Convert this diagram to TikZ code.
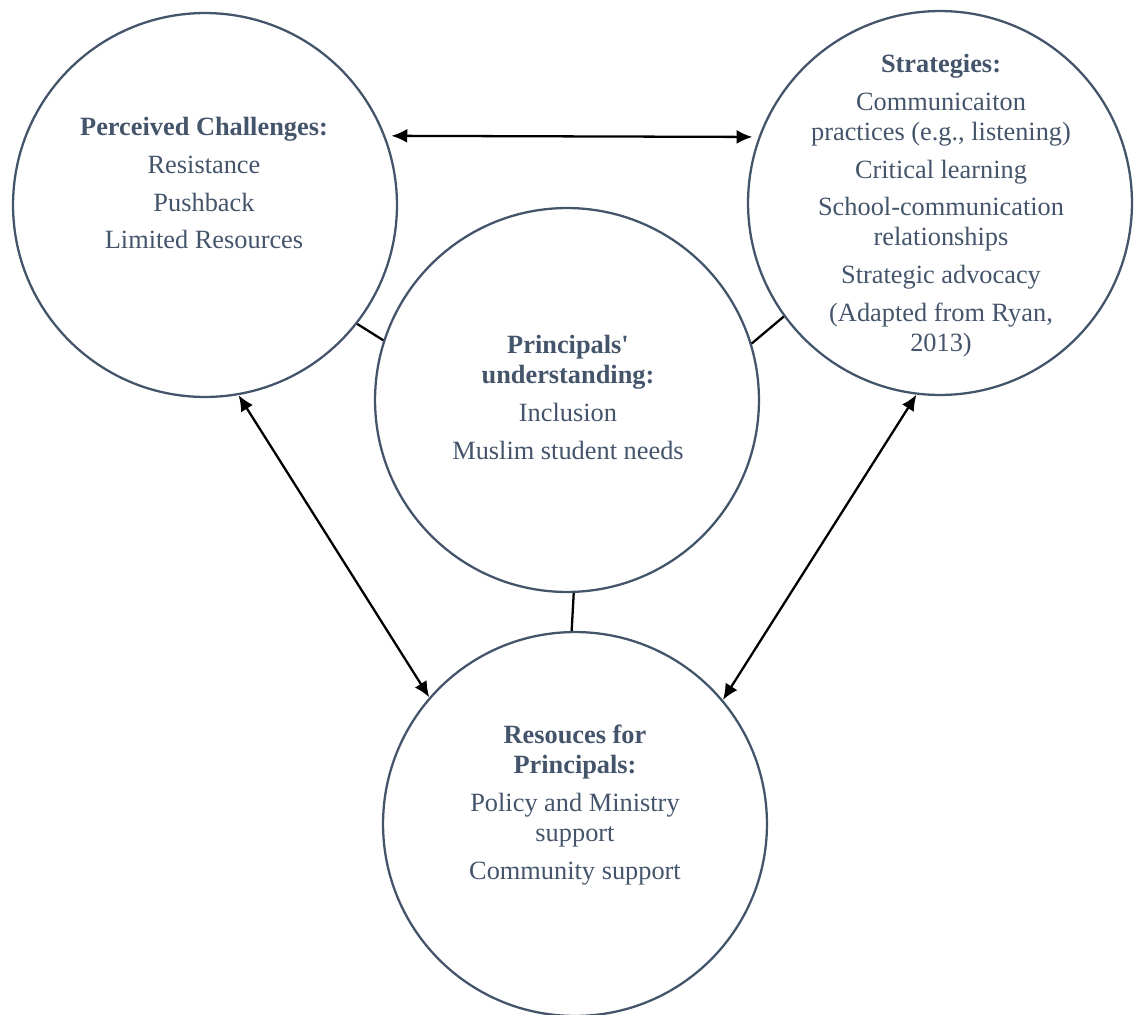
\documentclass[tikz,border=0pt]{standalone}
\usepackage{fontspec}
\setmainfont{Liberation Serif}
\usetikzlibrary{arrows.meta}

\definecolor{slate}{HTML}{44546A}

\tikzset{
  bubble/.style={circle, draw=slate, line width=1.3pt, minimum size=7.68cm, inner sep=0pt},
  words/.style={text=slate, align=center, font=\fontsize{15}{17}\selectfont, inner sep=0pt, anchor=north},
  link/.style={black, line width=1.3pt},
  twoway/.style={link, {Latex[length=9pt,width=8pt]}-{Latex[length=9pt,width=8pt]}}
}

\begin{document}
\begin{tikzpicture}[x=0.02cm, y=-0.02cm]
  \useasboundingbox (0,0) rectangle (1135,1014);

  %% circles
  \node[bubble] (challenges) at (205,205) {};
  \node[bubble] (strategies) at (940,203) {};
  \node[bubble] (understanding) at (567,400) {};
  \node[bubble] (resources) at (575,824) {};

  %% texts
  \node[words] (challengestxt) at (204,117) {\textbf{Perceived Challenges:}\\[4.5pt]
    Resistance\\[4.5pt] Pushback\\[4.5pt] Limited Resources};
  \node[words] (strategiestxt) at (941,54) {\textbf{Strategies:}\\[4.5pt]
    Communicaiton\\ practices (e.g., listening)\\[4.5pt] Critical learning\\[4.5pt]
    School-communication\\ relationships\\[4.5pt] Strategic advocacy\\[4.5pt]
    (Adapted from Ryan,\\ 2013)};
  \node[words] (understandingtxt) at (568,335) {\textbf{Principals\textquotesingle}\\
    \textbf{understanding:}\\[4.5pt] Inclusion\\[4.5pt] Muslim student needs};
  \node[words] (resourcestxt) at (575,725) {\textbf{Resouces for}\\ \textbf{Principals:}\\[4.5pt]
    Policy and Ministry\\ support\\[4.5pt] Community support};

  %% plain links to the middle
  \draw[link] (challenges.-38) -- (understanding.162);
  \draw[link] (strategies.216) -- (understanding.17);
  \draw[link] (understanding.-88) -- (resources.91);

  %% arrows
  \draw[twoway, shorten <=3.5pt, shorten >=3.5pt] (challenges.21) -- (strategies.160);
  \draw[twoway] (challenges.-80) -- (resources.139);
  \draw[twoway] (strategies.-97) -- (resources.40);

\end{tikzpicture}
\end{document}
